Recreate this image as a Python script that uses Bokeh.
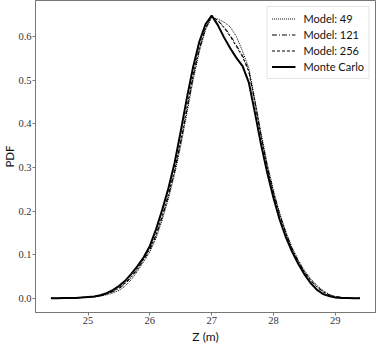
from bokeh.plotting import figure
from bokeh.models import FixedTicker, Legend, LegendItem, Range1d, Title
from bokeh.embed import file_html
from bokeh.resources import INLINE

# ---- data ----
z = [24.4, 24.5, 24.6, 24.7, 24.8, 24.9, 25.0, 25.1, 25.2, 25.3, 25.4, 25.5,
     25.6, 25.7, 25.8, 25.9, 26.0, 26.1, 26.2, 26.3, 26.4, 26.5, 26.6, 26.7,
     26.8, 26.9, 27.0, 27.1, 27.2, 27.3, 27.4, 27.5, 27.6, 27.7, 27.8, 27.9,
     28.0, 28.1, 28.2, 28.3, 28.4, 28.5, 28.6, 28.7, 28.8, 28.9, 29.0, 29.1,
     29.2, 29.3, 29.4]

monte_carlo = [0.000, 0.000, 0.001, 0.001, 0.001, 0.002, 0.003, 0.004, 0.007, 0.012,
               0.019, 0.028, 0.040, 0.056, 0.074, 0.094, 0.120, 0.158, 0.203, 0.252,
               0.310, 0.383, 0.460, 0.530, 0.588, 0.628, 0.648, 0.626, 0.598, 0.573,
               0.551, 0.532, 0.495, 0.425, 0.352, 0.287, 0.230, 0.180, 0.140, 0.107,
               0.079, 0.055, 0.035, 0.020, 0.010, 0.005, 0.002, 0.001, 0.001, 0.000,
               0.000]

model_49 = [0.000, 0.000, 0.000, 0.001, 0.001, 0.002, 0.002, 0.003, 0.005, 0.008,
            0.012, 0.018, 0.028, 0.043, 0.062, 0.084, 0.106, 0.138, 0.180, 0.228,
            0.284, 0.350, 0.425, 0.500, 0.565, 0.615, 0.644, 0.640, 0.633, 0.622,
            0.600, 0.566, 0.528, 0.455, 0.378, 0.308, 0.247, 0.196, 0.153, 0.117,
            0.088, 0.064, 0.045, 0.030, 0.018, 0.009, 0.004, 0.002, 0.001, 0.000,
            0.000]

model_121 = [0.000, 0.000, 0.000, 0.001, 0.001, 0.002, 0.003, 0.004, 0.006, 0.010,
             0.015, 0.022, 0.033, 0.048, 0.066, 0.088, 0.111, 0.143, 0.186, 0.234,
             0.290, 0.357, 0.432, 0.507, 0.570, 0.618, 0.646, 0.637, 0.622, 0.603,
             0.580, 0.556, 0.522, 0.450, 0.372, 0.302, 0.243, 0.192, 0.150, 0.114,
             0.085, 0.061, 0.042, 0.027, 0.016, 0.008, 0.004, 0.002, 0.001, 0.000,
             0.000]

model_256 = [0.000, 0.000, 0.000, 0.001, 0.001, 0.002, 0.003, 0.004, 0.006, 0.010,
             0.016, 0.024, 0.035, 0.050, 0.068, 0.090, 0.113, 0.146, 0.189, 0.238,
             0.294, 0.362, 0.438, 0.512, 0.574, 0.620, 0.646, 0.636, 0.620, 0.600,
             0.577, 0.553, 0.520, 0.448, 0.370, 0.300, 0.241, 0.190, 0.148, 0.113,
             0.084, 0.060, 0.041, 0.026, 0.015, 0.008, 0.003, 0.002, 0.001, 0.000,
             0.000]

x_ticks = [25, 26, 27, 28, 29]
x_tick_labels = ["25", "26", "27", "28", "29"]
y_ticks = [0.0, 0.1, 0.2, 0.3, 0.4, 0.5, 0.6]
y_tick_labels = ["0.0", "0.1", "0.2", "0.3", "0.4", "0.5", "0.6"]

SERIF = "Liberation Serif"
SANS = "Lato"
GRAY = "#777777"

p = figure(width=376, height=343, output_backend="svg", toolbar_location=None,
           x_range=Range1d(24.15, 29.65), y_range=Range1d(-0.0325, 0.6825),
           min_border_left=0, min_border_right=1, min_border_top=0,
           min_border_bottom=0)
p.xgrid.visible = False
p.ygrid.visible = False
p.outline_line_color = GRAY
p.outline_line_width = 1
p.background_fill_color = "white"
p.border_fill_color = "white"

for ax in (p.xaxis[0], p.yaxis[0]):
    ax.axis_line_color = GRAY
    ax.major_tick_line_color = GRAY
    ax.major_tick_out = 3
    ax.major_tick_in = 0
    ax.minor_tick_line_color = None
    ax.major_label_text_font = SERIF
    ax.major_label_text_font_size = "10.5px"
    ax.major_label_text_color = "#333333"
    ax.major_label_standoff = 1
    ax.axis_label = None

p.xaxis[0].ticker = FixedTicker(ticks=x_ticks)
p.xaxis[0].major_label_overrides = {t: l for t, l in zip(x_ticks, x_tick_labels)}
p.yaxis[0].ticker = FixedTicker(ticks=y_ticks)
p.yaxis[0].major_label_overrides = {t: l for t, l in zip(y_ticks, y_tick_labels)}

r49 = p.line(z, model_49, line_color="black", line_width=1, line_dash="1 1")
r121 = p.line(z, model_121, line_color="black", line_width=1, line_dash="5 2 1 2")
r256 = p.line(z, model_256, line_color="black", line_width=1, line_dash="3 2")
rmc = p.line(z, monte_carlo, line_color="black", line_width=2)

legend = Legend(items=[
    LegendItem(label="Model: 49", renderers=[r49]),
    LegendItem(label="Model: 121", renderers=[r121]),
    LegendItem(label="Model: 256", renderers=[r256]),
    LegendItem(label="Monte Carlo", renderers=[rmc]),
], location="top_right")
legend.label_text_font = SANS
legend.label_text_font_size = "11px"
legend.label_text_color = "#111111"
legend.glyph_width = 24
legend.glyph_height = 15
legend.label_height = 15
legend.spacing = 1
legend.padding = 4
legend.margin = 6
legend.label_standoff = 8
legend.border_line_color = "#cccccc"
legend.background_fill_alpha = 0.85
p.add_layout(legend)

# axis titles
p.add_layout(Title(text="Z (m)", align="center", text_font=SANS,
                   text_font_style="normal", text_font_size="12px",
                   text_color="#111111", standoff=0), "below")
p.add_layout(Title(text="PDF", align="center", text_font=SANS,
                   text_font_style="normal", text_font_size="11.5px",
                   text_color="#111111", standoff=0), "left")

open("out.html", "w").write(file_html(p, INLINE))
